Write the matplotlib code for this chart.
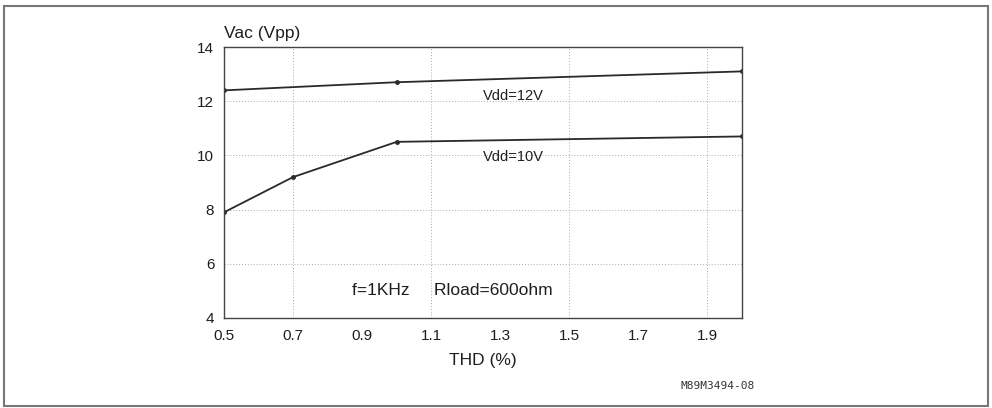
import matplotlib.pyplot as plt
from matplotlib.patches import Rectangle

# Daten
thd_12v = [0.5, 1.0, 2.0]
vac_12v = [12.4, 12.7, 13.1]
thd_10v = [0.5, 0.7, 1.0, 2.0]
vac_10v = [7.9, 9.2, 10.5, 10.7]

x_ticks = [0.5, 0.7, 0.9, 1.1, 1.3, 1.5, 1.7, 1.9]
x_grid = [0.7, 1.1, 1.5, 1.9]
y_ticks = [4, 6, 8, 10, 12, 14]

plt.rcParams["font.family"] = ["Liberation Sans", "DejaVu Sans"]

fig = plt.figure(figsize=(9.92, 4.08), dpi=100)
ax = fig.add_axes([0.2258, 0.2206, 0.5222, 0.6642])

line_kw = dict(color="#2a2a2a", lw=1.3, marker="o", ms=2.5)
ax.plot(thd_12v, vac_12v, **line_kw)
ax.plot(thd_10v, vac_10v, **line_kw)

ax.set_xlim(0.5, 2.0)
ax.set_ylim(4, 14)
ax.set_xticks(x_ticks)
ax.set_xticklabels([f"{v:.1f}" for v in x_ticks])
ax.set_yticks(y_ticks)
ax.tick_params(length=0, labelsize=11, colors="#1e1e1e")
ax.tick_params(axis="x", pad=8)
ax.tick_params(axis="y", pad=7)

# gepunktetes Raster
for gx in x_grid:
    ax.axvline(gx, color="#aaaaaa", lw=0.7, ls=(0, (1, 2)), zorder=0)
for gy in y_ticks[1:-1]:
    ax.axhline(gy, color="#aaaaaa", lw=0.7, ls=(0, (1, 2)), zorder=0)

for s in ax.spines.values():
    s.set_color("#444444")
    s.set_linewidth(1.0)

ax.set_xlabel("THD (%)", fontsize=12.5, labelpad=7, color="#1e1e1e")
fig.text(0.226, 0.9, "Vac (Vpp)", fontsize=12.5, ha="left", va="bottom",
         color="#1e1e1e")

ax.text(1.25, 12.2, "Vdd=12V", fontsize=10.5, ha="left", va="center", color="#1e1e1e")
ax.text(1.25, 9.95, "Vdd=10V", fontsize=10.5, ha="left", va="center", color="#1e1e1e")
ax.text(1.16, 5.0, "f=1KHz     Rload=600ohm", fontsize=12.5, ha="center",
        va="center", color="#1e1e1e")

fig.text(0.723, 0.054, "M89M3494-08", fontsize=8, ha="center", va="center",
         family="DejaVu Sans Mono", color="#333333")

# Rahmen um die gesamte Abbildung
fig.patches.append(Rectangle((0.004, 0.006), 0.992, 0.98, transform=fig.transFigure,
                             fill=False, edgecolor="#777777", lw=1.5))

fig.savefig("out.png", dpi=100)
